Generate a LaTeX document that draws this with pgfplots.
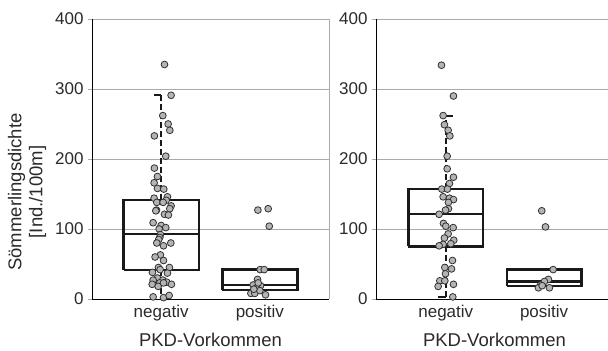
\documentclass[border=0pt]{standalone}
\usepackage{fontspec}
\setmainfont{Liberation Sans}
\usepackage{pgfplots}
\pgfplotsset{compat=1.18}
\definecolor{txt}{HTML}{2A2A2A}
\definecolor{grd}{HTML}{AAAAAA}
\definecolor{ptfill}{HTML}{B4B4B4}
\definecolor{ptedge}{HTML}{303030}
\begin{document}
\begin{tikzpicture}
\pgfplotsset{
  myax/.style={
    scale only axis, height=280bp,
    ymin=0, ymax=400, ytick={0,100,200,300,400},
    ymajorgrids, grid style={grd, line width=0.8bp},
    axis x line*=bottom, axis y line*=left,
    axis line style={black, line width=0.9bp},
    xtick={1,2}, xticklabels={negativ,positiv},
    x tick style={draw=none},
    y tick style={grd, line width=0.8bp},
    tick align=outside, major tick length=4bp,
    ticklabel style={font=\fontsize{17bp}{19bp}\selectfont, text=txt},
    /pgf/number format/assume math mode=true,
    yticklabel style={xshift=-1bp},
    xticklabel style={yshift=1bp},
    clip=false,
  },
  pts/.style={only marks, mark=*, mark size=3.4bp,
    mark options={fill=ptfill, draw=ptedge, line width=0.8bp}},
  boxs/.style={black!90, line width=2.3bp, line join=miter},
  whis/.style={black!90, line width=2bp, dash pattern=on 6bp off 3bp},
  caps/.style={black!90, line width=2bp},
}
\begin{pgfinterruptboundingbox}
% ---------------- left panel ----------------
\begin{axis}[myax, at={(92bp,52bp)}, anchor=south west, width=237bp,
  xmin=0.3, xmax=2.7,
  after end axis/.code={\draw[grd, line width=0.8bp] (rel axis cs:1,0) -- (rel axis cs:1,1);}]
\addplot[whis] coordinates {(1,141.9) (1,291)};
\addplot[whis] coordinates {(1,41.9) (1,2)};
\addplot[caps] coordinates {(0.93,291) (1,291)};
\addplot[boxs] coordinates {(0.62,41.9) (1.38,41.9) (1.38,141.9) (0.62,141.9) (0.62,41.9)};
\addplot[boxs] coordinates {(0.62,92.9) (1.38,92.9)};
\addplot[boxs] coordinates {(1.62,13.3) (2.38,13.3) (2.38,42) (1.62,42) (1.62,13.3)};
\addplot[boxs] coordinates {(1.62,19.5) (2.38,19.5)};
\addplot[pts] coordinates {
(1.034,335) (1.101,291) (1.017,262) (1.071,250) (1.088,241) (0.932,233)
(1.047,204) (0.932,187) (0.963,175) (0.929,166) (0.963,158) (1.027,157)
(0.929,144) (1.064,146) (1.051,141) (0.956,138) (1.020,138) (1.101,133)
(1.088,129) (0.953,127) (0.946,126) (1.034,121) (1.074,120) (0.919,109)
(1.000,105) (1.047,102) (0.980,100) (0.993,92) (0.986,88) (0.976,85)
(0.956,80) (1.098,80) (1.024,76) (0.993,63) (0.939,60) (1.024,55)
(0.973,45) (1.084,45) (0.990,42) (0.912,38) (1.064,37) (0.963,30)
(1.017,27) (0.919,27) (1.057,24) (0.909,21) (0.986,23) (1.105,21)
(0.970,18) (1.024,23) (0.919,3) (1.024,2) (1.081,5)
};
\addplot[pts] coordinates {
(1.980,127) (2.084,129) (2.095,104) (2.003,42) (2.044,42) (1.976,28)
(1.932,20) (2.007,19) (1.966,16) (1.909,8) (1.949,8) (2.057,6)
(2.000,12) (1.939,14) (1.983,23)
};
\end{axis}
% ---------------- right panel ----------------
\begin{axis}[myax, at={(376bp,52bp)}, anchor=south west, width=232bp,
  xmin=0.29, xmax=2.65]
\addplot[whis] coordinates {(1,157) (1,262)};
\addplot[whis] coordinates {(1,75) (1,3)};
\addplot[caps] coordinates {(1,262) (1.07,262)};
\addplot[caps] coordinates {(0.92,3) (1,3)};
\addplot[boxs] coordinates {(0.62,75) (1.38,75) (1.38,157) (0.62,157) (0.62,75)};
\addplot[boxs] coordinates {(0.62,121) (1.38,121)};
\addplot[boxs] coordinates {(1.62,19) (2.38,19) (2.38,42) (1.62,42) (1.62,19)};
\addplot[boxs] coordinates {(1.62,25) (2.38,25)};
\addplot[pts] coordinates {
(0.956,334) (1.078,290) (0.973,262) (0.986,249) (1.024,241) (1.041,233)
(1.014,204) (1.014,186) (1.078,174) (1.037,165) (0.959,157) (1.017,157)
(0.973,146) (1.037,144) (1.078,142) (1.027,138) (1.027,129) (0.997,127)
(0.932,121) (0.976,108) (1.000,104) (1.075,102) (1.024,93) (0.986,87)
(1.081,84) (0.973,78) (0.932,76) (1.051,79) (1.068,55) (0.990,45)
(1.058,43) (0.997,36) (0.939,26) (0.990,26) (0.922,18) (1.078,21)
(1.071,3)
};
\addplot[pts] coordinates {
(1.976,126) (2.014,103) (2.092,42) (2.044,28) (2.003,25) (1.963,20)
(1.942,16) (2.054,16) (1.980,19)
};
\end{axis}
% ---------------- labels ----------------
\node[text=txt, font=\fontsize{18.5bp}{21bp}\selectfont, align=center, rotate=90]
  at (27bp,159bp) {Sömmerlingsdichte\\{}[Ind./100m]};
\node[text=txt, font=\fontsize{18.5bp}{21bp}\selectfont] at (210.5bp,11bp) {PKD-Vorkommen};
\node[text=txt, font=\fontsize{18.5bp}{21bp}\selectfont] at (494.5bp,11bp) {PKD-Vorkommen};
\end{pgfinterruptboundingbox}
\path (0bp,0bp) rectangle (608bp,351bp);
\end{tikzpicture}
\end{document}
